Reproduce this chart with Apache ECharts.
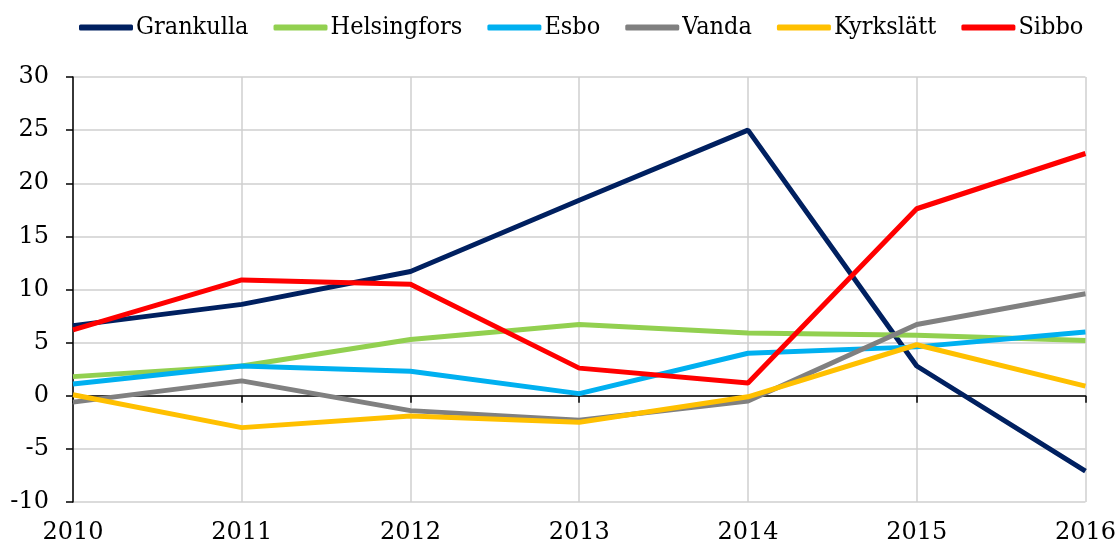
<!DOCTYPE html>
<html style="height: 100%">
<head>
<meta charset="utf-8">
<script src="https://cdn.jsdelivr.net/npm/echarts@6/dist/echarts.min.js"></script>
</head>
<body style="height: 100%; margin: 0">
<div id="container" style="width: 1119px; height: 547px"></div>
<script type="text/javascript">
var years = ['2010', '2011', '2012', '2013', '2014', '2015', '2016'];
var grankulla = [6.6, 8.6, 11.7, 18.4, 25.0, 2.8, -7.1];
var helsingfors = [1.8, 2.8, 5.3, 6.7, 5.9, 5.7, 5.2];
var esbo = [1.1, 2.8, 2.3, 0.2, 4.0, 4.6, 6.0];
var vanda = [-0.6, 1.4, -1.4, -2.3, -0.5, 6.7, 9.6];
var kyrkslatt = [0.1, -3.0, -1.9, -2.5, -0.1, 4.8, 0.9];
var sibbo = [6.2, 10.9, 10.5, 2.6, 1.2, 17.6, 22.8];

var names = ['Grankulla', 'Helsingfors', 'Esbo', 'Vanda', 'Kyrkslätt', 'Sibbo'];
var colors = ['#002060', '#92d050', '#00b0f0', '#808080', '#ffc000', '#ff0000'];
var datas = [grankulla, helsingfors, esbo, vanda, kyrkslatt, sibbo];

var serif = "'DejaVu Serif', 'Liberation Serif', serif";

var series = [];
for (let i = 0; i < names.length; i++) {
    series.push({
        name: names[i],
        type: 'line',
        xAxisIndex: 1,
        data: datas[i],
        symbol: 'none',
        color: colors[i],
        lineStyle: { width: 5, color: colors[i] }
    });
}

var dom = document.getElementById("container");
var myChart = echarts.init(dom);
var option = {
    animation: false,
    legend: {
        data: names,
        top: 10,
        left: 74,
        icon: 'roundRect',
        itemWidth: 54,
        itemHeight: 6,
        itemGap: 25,
        textStyle: {
            fontFamily: "'DejaVu Serif Condensed', 'Liberation Serif', serif",
            fontSize: 25,
            color: '#000',
            padding: [0, 0, 0, -2]
        }
    },
    grid: { left: 73, right: 33, top: 77, bottom: 45 },
    xAxis: [
        {
            type: 'category',
            data: years,
            boundaryGap: false,
            axisLine: { onZero: true, lineStyle: { color: '#000', width: 1.5 } },
            axisTick: { show: true, length: 7, lineStyle: { color: '#000', width: 1.5 } },
            axisLabel: { show: false },
            splitLine: { show: false }
        },
        {
            type: 'category',
            data: years,
            boundaryGap: false,
            position: 'bottom',
            axisLine: { show: false, onZero: false },
            axisTick: { show: false },
            axisLabel: { margin: 19, fontFamily: serif, fontSize: 24, color: '#000' },
            splitLine: { show: true, lineStyle: { color: '#cfcfcf', width: 1.5 } }
        }
    ],
    yAxis: {
        type: 'value',
        min: -10,
        max: 30,
        interval: 5,
        axisLine: { show: true, lineStyle: { color: '#000', width: 1.5 } },
        axisTick: { show: true, length: 7, lineStyle: { color: '#000', width: 1.5 } },
        axisLabel: { margin: 24, fontFamily: serif, fontSize: 24, color: '#000' },
        splitLine: { show: true, lineStyle: { color: '#cfcfcf', width: 1.5 } }
    },
    series: series
};
myChart.setOption(option);
</script>
</body>
</html>
